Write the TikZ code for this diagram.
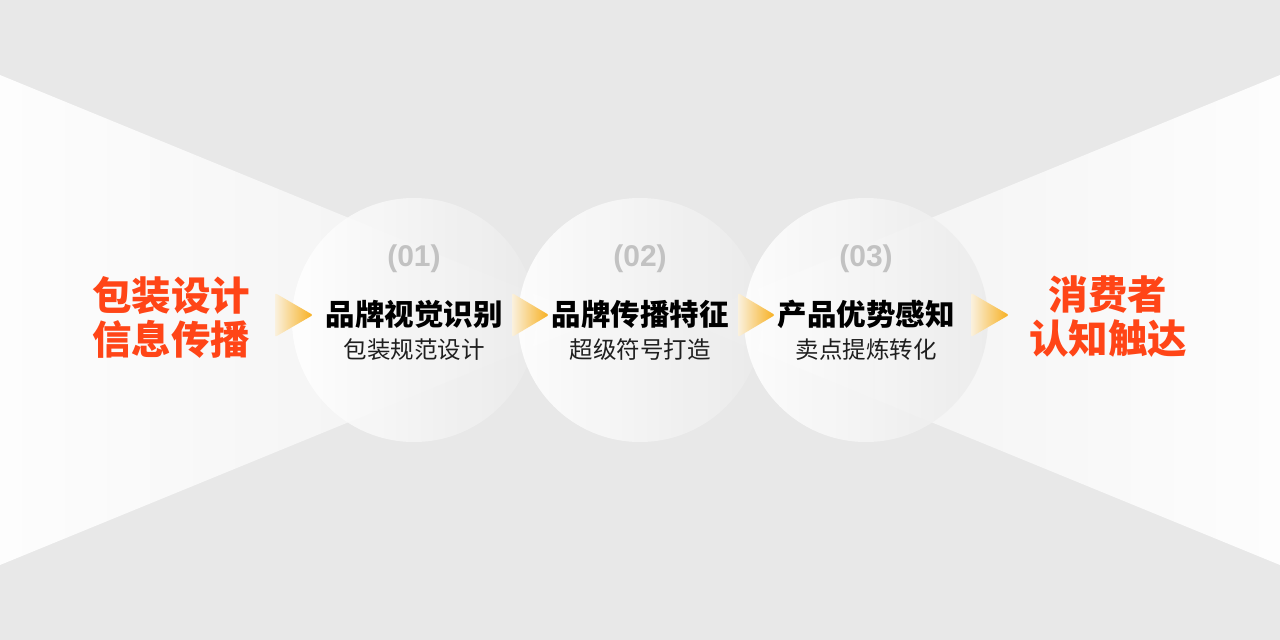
\documentclass[tikz,border=0pt]{standalone}
\usepackage{fontspec}
\newfontfamily\cjk{Noto Sans CJK SC}
\newfontfamily\numfont{Liberation Sans}
\definecolor{bg}{HTML}{E8E8E8}
\definecolor{redtxt}{HTML}{FF4517}
\definecolor{numgray}{HTML}{C2C2C2}
\definecolor{arrowtip}{HTML}{F7AF1E}
\definecolor{arrowmid}{HTML}{FBD27A}
\definecolor{arrowbase}{HTML}{FAF1DE}
\definecolor{fanlight}{HTML}{FDFDFD}
\definecolor{fandark}{HTML}{EFEFEF}
\definecolor{circdark}{HTML}{EBEBEB}
\begin{document}
\begin{tikzpicture}[x=1pt,y=-1pt,
  stepcircle/.style={circle, minimum size=244pt, inner sep=0pt, fill opacity=0.88,
    left color=white, right color=circdark},
  chevron/.style={left color=arrowbase, middle color=arrowmid, right color=arrowtip, rounded corners=2pt},
  numtext/.style={text=numgray, font=\numfont\bfseries\fontsize{30}{32}\selectfont},
  titletext/.style={text=black, font=\cjk\bfseries\fontsize{29.5}{32}\selectfont},
  subtext/.style={text=black!88, font=\cjk\fontsize{23.5}{26}\selectfont},
  endtext/.style={text=redtxt, align=center, font=\cjk\bfseries\fontsize{39.5}{44}\selectfont}]
\fill[bg] (0,0) rectangle (1280,640);
\useasboundingbox (0,0) rectangle (1280,640);
% fans
\shade[left color=fanlight, right color=fandark] (0,75) -- (598,320) -- (0,565) -- cycle;
\shade[left color=fandark, right color=fanlight] (1280,75) -- (682,320) -- (1280,565) -- cycle;
% circles
\node[stepcircle] (c1) at (414,320) {};
\node[stepcircle] (c2) at (640,320) {};
\node[stepcircle] (c3) at (866,320) {};
% chevrons
\shade[chevron] (275,293) -- (313,315) -- (275,337) -- cycle;
\shade[chevron] (512,293) -- (549,315) -- (512,337) -- cycle;
\shade[chevron] (738,293) -- (775,315) -- (738,337) -- cycle;
\shade[chevron] (971,293) -- (1009,315) -- (971,337) -- cycle;
% texts
\node[endtext] (left) at (171,317) {包装设计\\信息传播};
\node[endtext] (right) at (1108,317) {消费者\\认知触达};
\node[numtext] (n1) at (414,259) {(01)};
\node[numtext] (n2) at (640,259) {(02)};
\node[numtext] (n3) at (866,259) {(03)};
\node[titletext] (t1) at (414,314) {品牌视觉识别};
\node[titletext] (t2) at (640,314) {品牌传播特征};
\node[titletext] (t3) at (866,314) {产品优势感知};
\node[subtext] (s1) at (414,350) {包装规范设计};
\node[subtext] (s2) at (640,350) {超级符号打造};
\node[subtext] (s3) at (866,350) {卖点提炼转化};
\end{tikzpicture}
\end{document}
